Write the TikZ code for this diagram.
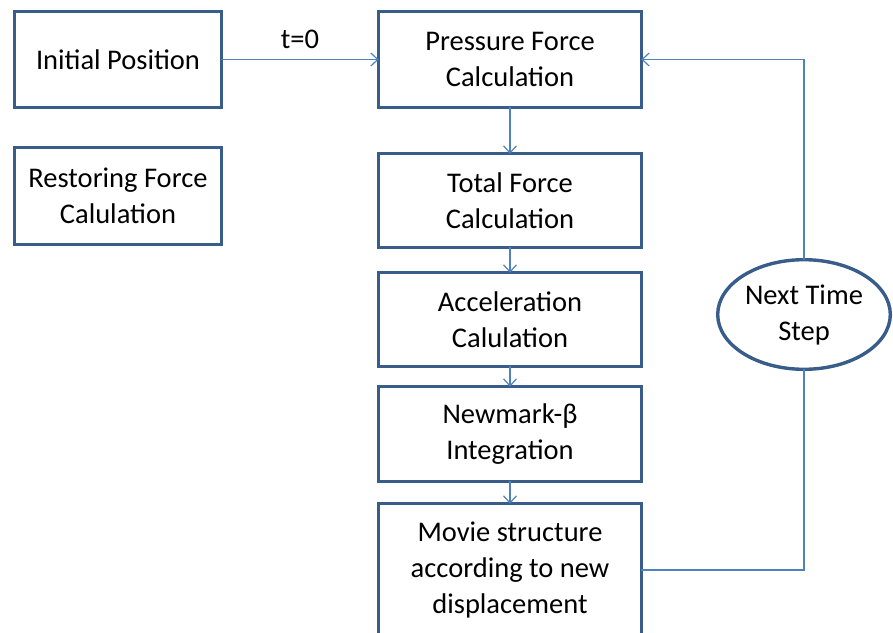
\documentclass[tikz,border=0pt]{standalone}
\usepackage{fontspec}
\setmainfont{Carlito}
\usetikzlibrary{positioning}
\usetikzlibrary{shapes.geometric}
\usetikzlibrary{arrows.meta}

\definecolor{boxblue}{HTML}{385D8A}
\definecolor{lineblue}{HTML}{4F81BD}

\begin{document}
\begin{tikzpicture}[x=1pt,y=-1pt,->,>={Straight Barb[length=7pt,width=13pt]},
	lineblue,line width=1.2pt,
	main node/.style={draw=boxblue,line width=3.4pt,text=black,align=center,
		font=\fontsize{28.5}{36}\selectfont,inner sep=0pt,outer sep=0pt,
		minimum width=262.6pt,minimum height=94.6pt},
	side node/.style={main node,minimum width=206.6pt}]
	
	\useasboundingbox (0,0) rectangle (893,632);
	\clip (0,0) rectangle (893,632);
	
	\node[side node,minimum height=95.6pt] (init) at (118,59.5) {Initial Position};
	\node[side node,minimum height=96.6pt] (restore) at (118,196) {Restoring Force\\Calulation};
	\node[main node,minimum height=95.6pt] (press) at (510,59.5) {Pressure Force\\Calculation};
	\node[main node,minimum height=93.6pt] (total) [below=46.4pt of press] {Total Force\\Calculation};
	\node[main node,minimum height=93.6pt] (accel) [below=25.4pt of total] {Acceleration\\Calulation};
	\node[main node] (newmark) [below=20.4pt of accel] {Newmark-β\\Integration};
	\node[main node,minimum height=132.6pt] (movie) [below=22.4pt of newmark] {Movie structure\\according to new\\displacement};
	\node[main node,ellipse,minimum width=172.6pt,minimum height=109.6pt] (nts) at (804,314.5) {Next Time\\Step};
	
	\draw (init) -- node[above=7pt,text=black,font=\fontsize{28.5}{36}\selectfont] {t=0} (press);
	\draw (press) -- (total);
	\draw (total) -- (accel);
	\draw (accel) -- (newmark);
	\draw (newmark) -- (movie);
	\draw[-] (movie) -| (nts);
	\draw (nts) |- (press);
\end{tikzpicture}
\end{document}
